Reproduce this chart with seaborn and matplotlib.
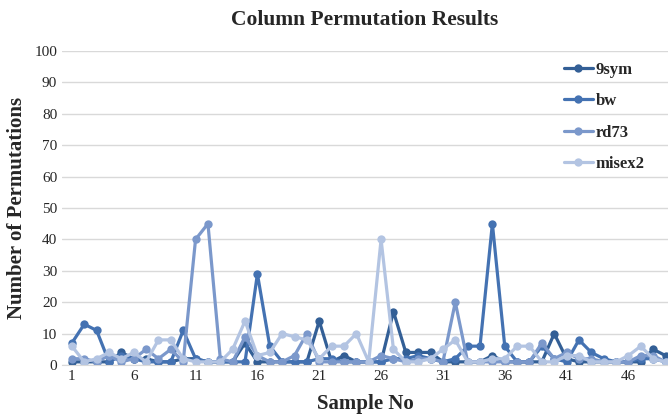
import numpy as np
import pandas as pd
import seaborn as sns
import matplotlib
matplotlib.use("Agg")
import matplotlib.pyplot as plt

# Data
samples = list(range(1, 50))
sym9 = [1, 1, 1, 1, 4, 2, 2, 1, 1, 2, 2, 1, 1, 1, 7, 1, 1, 1, 1, 1, 14, 1, 3, 1, 1,
        1, 17, 4, 4, 4, 1, 1, 1, 1, 3, 1, 1, 1, 1, 10, 2, 1, 1, 1, 1, 1, 1, 5, 3]
bw = [7, 13, 11, 1, 3, 2, 1, 1, 1, 11, 2, 1, 1, 1, 1, 29, 6, 1, 1, 1, 2, 2, 1, 1, 1,
      1, 2, 2, 3, 2, 1, 2, 6, 6, 45, 6, 1, 1, 6, 2, 1, 8, 4, 2, 1, 1, 2, 2, 1]
rd73 = [2, 2, 1, 3, 1, 2, 5, 2, 5, 1, 40, 45, 2, 1, 9, 3, 1, 1, 3, 10, 1, 1, 1, 1, 1,
        3, 2, 1, 2, 2, 1, 20, 1, 1, 1, 1, 1, 1, 7, 2, 4, 2, 2, 1, 1, 1, 3, 3, 1]
misex2 = [6, 1, 2, 4, 2, 4, 1, 8, 8, 2, 1, 1, 1, 5, 14, 3, 4, 10, 9, 8, 2, 6, 6, 10, 1,
          40, 5, 1, 1, 2, 5, 8, 1, 1, 2, 2, 6, 6, 1, 1, 3, 3, 1, 1, 1, 3, 6, 2, 1]
series_names = ['9sym', 'bw', 'rd73', 'misex2']
colors = ['#335F96', '#4472B2', '#7B98CB', '#B3C4E2']

df = pd.DataFrame({'Sample': samples, '9sym': sym9, 'bw': bw,
                   'rd73': rd73, 'misex2': misex2})
long = df.melt(id_vars='Sample', var_name='Circuit', value_name='Perms')

sns.set_style('white')
plt.rcParams['font.family'] = ['Liberation Serif', 'DejaVu Serif']

fig = plt.figure(figsize=(6.68, 4.16), dpi=100)
ax = fig.add_axes([62 / 668, 51 / 416, 606 / 668, 314 / 416])

sns.lineplot(data=long, x='Sample', y='Perms', hue='Circuit',
             hue_order=series_names, palette=colors, marker='o',
             markersize=6, markeredgewidth=0, linewidth=2.3, ax=ax)

ax.set_xlim(0.2, 49.2)
ax.set_ylim(0, 100)
ax.set_yticks(range(0, 101, 10))
ax.set_xticks(range(1, 50, 5))
ax.tick_params(axis='both', labelsize=11, length=0, colors='#262626')
ax.yaxis.grid(True, color='#D9D9D9', linewidth=1)
ax.set_axisbelow(True)
for s in ['top', 'right', 'left']:
    ax.spines[s].set_visible(False)
ax.spines['bottom'].set_color('#D9D9D9')

ax.set_xlabel('Sample No', fontsize=15, fontweight='bold', labelpad=8)
ax.set_ylabel('Number of Permutations', fontsize=15, fontweight='bold')
ax.yaxis.set_label_coords((27 - 62) / 606, 0.5)
fig.text(365 / 668, 1 - 20 / 416, 'Column Permutation Results', ha='center', va='center',
         fontsize=15.5, fontweight='bold')

leg = ax.legend(loc='upper left', bbox_to_anchor=(0.804, 1.014), frameon=False,
                labelspacing=0.93, handlelength=1.7, handletextpad=0.2,
                prop={'weight': 'bold', 'size': 12})

fig.savefig('out.png', dpi=100)
